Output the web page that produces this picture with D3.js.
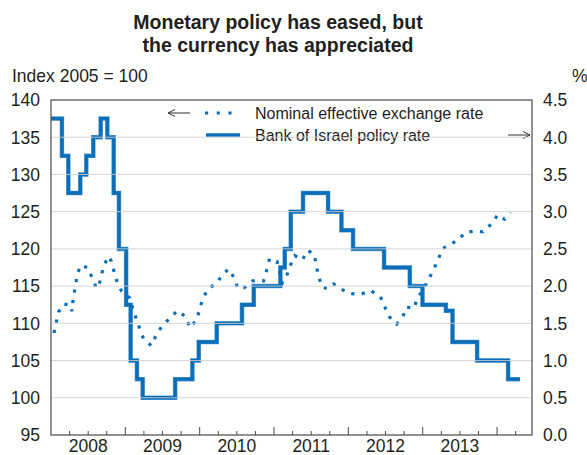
<!DOCTYPE html>
<html>
<head>
<meta charset="utf-8">
<script src="https://cdn.jsdelivr.net/npm/d3@7"></script>
<style>
  body { margin: 0; background: #fff; }
  svg { display: block; font-family: "Liberation Sans", Arial, sans-serif; }
</style>
</head>
<body>
<svg id="chart" width="587" height="455"></svg>
<script>
// Data (decimal years)
const nerDates = [2008.04, 2008.07, 2008.10, 2008.17, 2008.27, 2008.28, 2008.30, 2008.33, 2008.35, 2008.40,
  2008.49, 2008.55, 2008.61, 2008.64, 2008.67, 2008.71, 2008.77, 2008.81, 2008.85, 2008.89, 2008.95,
  2009.06, 2009.10, 2009.15, 2009.20, 2009.25, 2009.35, 2009.41, 2009.49, 2009.60, 2009.70, 2009.81,
  2009.87, 2009.96, 2010.00, 2010.04, 2010.11, 2010.23, 2010.31, 2010.39, 2010.47, 2010.51, 2010.60,
  2010.71, 2010.86, 2010.90, 2010.94, 2011.04, 2011.11, 2011.17, 2011.22, 2011.28, 2011.38, 2011.45,
  2011.54, 2011.57, 2011.60, 2011.65, 2011.72, 2011.80, 2011.90, 2012.02, 2012.17, 2012.30, 2012.43,
  2012.49, 2012.55, 2012.65, 2012.73, 2012.78, 2012.88, 2012.93, 2013.01, 2013.08, 2013.15, 2013.21,
  2013.26, 2013.37, 2013.48, 2013.57, 2013.70, 2013.81, 2013.93, 2014.01, 2014.10, 2014.18];
const nerValues = [108.7, 110.1, 111.5, 112.6, 112.4, 111.6, 113.5, 115.0, 116.5, 117.8,
  117.5, 116.2, 114.8, 114.8, 116.2, 117.7, 119.0, 118.4, 116.9, 115.5, 114.3,
  113.4, 112.0, 110.5, 109.1, 107.8, 107.0, 108.3, 109.6, 110.7, 111.7, 110.9,
  109.4, 110.5, 111.9, 113.3, 114.6, 115.4, 116.6, 117.3, 116.0, 114.7, 114.8,
  115.7, 115.7, 117.1, 118.7, 118.3, 115.4, 116.4, 117.8, 119.1, 118.5, 119.8,
  119.3, 117.7, 116.3, 114.8, 114.7, 115.3, 114.6, 114.0, 113.9, 114.4, 113.6,
  112.2, 110.9, 109.9, 110.8, 112.2, 112.0, 113.4, 114.6, 115.9, 117.3, 118.6,
  120.0, 120.6, 121.2, 122.2, 122.4, 122.3, 123.4, 124.6, 124.0, 124.9];

const rateDates = [2008.00, 2008.147, 2008.233, 2008.394, 2008.475, 2008.569, 2008.668, 2008.758, 2008.843,
  2008.914, 2009.011, 2009.071, 2009.156, 2009.233, 2009.670, 2009.902, 2009.987, 2010.229, 2010.569,
  2010.727, 2011.086, 2011.144, 2011.225, 2011.390, 2011.727, 2011.907, 2012.063, 2012.480, 2012.826,
  2012.997, 2013.311, 2013.401, 2013.732, 2014.149, 2014.307];
const rateValues = [4.25, 3.75, 3.25, 3.5, 3.75, 4.0, 4.25, 4.0, 3.25,
  2.5, 1.75, 1.0, 0.75, 0.5, 0.75, 1.0, 1.25, 1.5, 1.75,
  2.0, 2.25, 2.5, 3.0, 3.25, 3.0, 2.75, 2.5, 2.25, 2.0,
  1.75, 1.67, 1.25, 1.0, 0.75, 0.75];

const leftTicks = [95, 100, 105, 110, 115, 120, 125, 130, 135, 140];
const rightTicks = [0, 0.5, 1.0, 1.5, 2.0, 2.5, 3.0, 3.5, 4.0, 4.5];
const years = [2008, 2009, 2010, 2011, 2012, 2013];
const titleLines = ["Monetary policy has eased, but", "the currency has appreciated"];
const legendLabels = ["Nominal effective exchange rate", "Bank of Israel policy rate"];

// Size settings
const margin = {top: 100, right: 55, bottom: 20, left: 51};
const width = 587, height = 455;
const blue = "#0a6fb8";
const axisColor = "#4a4a4a";
const textColor = "#231f20";

const svg = d3.select("#chart");

const x = d3.scaleLinear().domain([2008, 2014.47]).range([margin.left, width - margin.right]);
const yL = d3.scaleLinear().domain([95, 140]).range([height - margin.bottom, margin.top]);
const yR = d3.scaleLinear().domain([0, 4.5]).range([height - margin.bottom, margin.top]);

// Title
svg.append("g").selectAll("text")
  .data(titleLines)
  .enter().append("text")
  .attr("x", 278)
  .attr("y", (d, i) => 29 + i * 23)
  .attr("text-anchor", "middle")
  .style("font-size", "19.5px")
  .style("font-weight", "bold")
  .attr("fill", textColor)
  .text(d => d);

svg.append("text").attr("x", 12).attr("y", 82)
  .style("font-size", "17.5px").attr("fill", textColor).text("Index 2005 = 100");
svg.append("text").attr("x", 572).attr("y", 82)
  .style("font-size", "17.5px").attr("fill", textColor).text("%");

// Left labels
svg.append("g").selectAll("text")
  .data(leftTicks)
  .enter().append("text")
  .attr("x", 40)
  .attr("y", d => yL(d))
  .attr("dy", "0.36em")
  .attr("text-anchor", "end")
  .style("font-size", "17.5px")
  .attr("fill", textColor)
  .text(d => d);

// Right labels
svg.append("g").selectAll("text")
  .data(rightTicks)
  .enter().append("text")
  .attr("x", 543)
  .attr("y", d => yR(d))
  .attr("dy", "0.36em")
  .style("font-size", "17.5px")
  .attr("fill", textColor)
  .text(d => d3.format(".1f")(d));

// Year labels
svg.append("g").selectAll("text")
  .data(years)
  .enter().append("text")
  .attr("x", d => x(d + 0.5))
  .attr("y", 452)
  .attr("text-anchor", "middle")
  .style("font-size", "17.5px")
  .attr("fill", textColor)
  .text(d => d);

// Legend
const legend = svg.append("g");
legend.append("path")
  .attr("d", "M190,113 L168,113 M175,109.5 L168,113 L175,116.5")
  .attr("fill", "none").attr("stroke", "#333").attr("stroke-width", 1);
legend.append("line")
  .attr("x1", 205).attr("x2", 233).attr("y1", 113).attr("y2", 113)
  .attr("stroke", blue).attr("stroke-width", 3.2).attr("stroke-dasharray", "3.2,8.5");
legend.append("line")
  .attr("x1", 206).attr("x2", 240).attr("y1", 135).attr("y2", 135)
  .attr("stroke", blue).attr("stroke-width", 3.5);
legend.selectAll("text")
  .data(legendLabels)
  .enter().append("text")
  .attr("x", 255)
  .attr("y", (d, i) => 119 + i * 22)
  .style("font-size", "16px")
  .attr("fill", textColor)
  .text(d => d);
legend.append("path")
  .attr("d", "M508,135 L530,135 M523,131.5 L530,135 L523,138.5")
  .attr("fill", "none").attr("stroke", "#333").attr("stroke-width", 1);

// Lines
const nerData = nerDates.map((d, i) => ({t: d, v: nerValues[i]}));
const rateData = rateDates.map((d, i) => ({t: d, v: rateValues[i]}));

const nerLine = d3.line().x(d => x(d.t)).y(d => yL(d.v));
const rateLine = d3.line().curve(d3.curveStepAfter).x(d => x(d.t)).y(d => yR(d.v));

svg.append("path")
  .datum(rateData)
  .attr("d", rateLine)
  .attr("fill", "none")
  .attr("stroke", "#5d9fd5")
  .attr("stroke-width", 4.5);
svg.append("path")
  .datum(rateData)
  .attr("d", rateLine)
  .attr("fill", "none")
  .attr("stroke", blue)
  .attr("stroke-width", 3.4);

svg.append("path")
  .datum(nerData)
  .attr("d", nerLine)
  .attr("fill", "none")
  .attr("stroke", blue)
  .attr("stroke-width", 3.2)
  .attr("stroke-dasharray", "3.2,7.4");

// Gridlines (drawn on top, light)
svg.append("g").selectAll("line")
  .data(leftTicks.filter(d => d > 95 && d < 140))
  .enter().append("line")
  .attr("x1", margin.left).attr("x2", width - margin.right)
  .attr("y1", d => yL(d)).attr("y2", d => yL(d))
  .attr("stroke", "#cfcfcf")
  .attr("stroke-opacity", 0.85)
  .attr("stroke-width", 1);

// X ticks (inside)
const quarters = d3.range(2008.25, 2014.3, 0.25);
svg.append("g").selectAll("line")
  .data(quarters)
  .enter().append("line")
  .attr("x1", d => x(d)).attr("x2", d => x(d))
  .attr("y1", yL(95))
  .attr("y2", d => yL(95) - (Math.abs(d - Math.round(d)) < 0.01 ? 8 : 4))
  .attr("stroke", axisColor)
  .attr("stroke-width", 1);

// Frame
svg.append("rect")
  .attr("x", margin.left).attr("y", margin.top)
  .attr("width", width - margin.left - margin.right)
  .attr("height", height - margin.top - margin.bottom)
  .attr("fill", "none")
  .attr("stroke", axisColor)
  .attr("stroke-width", 1.2);
</script>
</body>
</html>
